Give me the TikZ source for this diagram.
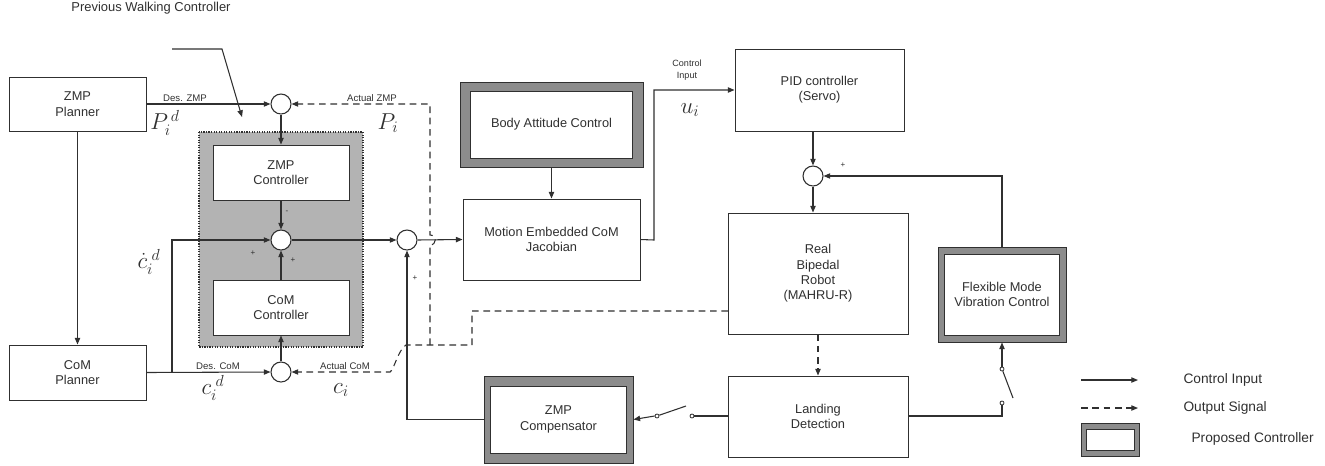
\documentclass[tikz,border=0pt]{standalone}
\usepackage{fontspec}
\setmainfont{Liberation Sans}
\usetikzlibrary{arrows.meta,calc}
\definecolor{ln}{HTML}{303030}
\definecolor{gbox}{HTML}{B3B3B3}
\definecolor{gframe}{HTML}{8C8C8C}
\begin{document}
\begin{tikzpicture}[x=0.75pt,y=-0.75pt,color=ln,line width=0.8pt,
  wh/.style 2 args={minimum width=#1*0.75pt, minimum height=#2*0.75pt},
  blk/.style={draw, fill=white, align=center, inner sep=0pt, line width=0.7pt,
    font=\fontsize{9.6}{11.5}\selectfont},
  frame/.style={draw, fill=gframe, inner sep=0pt, line width=0.7pt},
  sum/.style={circle, draw, fill=white, minimum size=15pt, inner sep=0pt},
  swc/.style={circle, draw, fill=white, minimum size=3pt, inner sep=0pt, line width=0.6pt},
  arr/.style={-{Triangle[length=5pt,width=4pt]}},
  sig/.style={dash pattern=on 5pt off 3.5pt},
  lab/.style={font=\fontsize{7.2}{8.5}\selectfont, inner sep=1pt},
  mth/.style={font=\fontsize{17}{17}\selectfont, inner sep=0pt},
  pm/.style={font=\fontsize{6}{6}\selectfont, inner sep=0pt},
  leg/.style={font=\fontsize{10.3}{12}\selectfont, anchor=west, inner sep=0pt}
]
\useasboundingbox (0,0) rectangle (1325,465);

% title
\node[font=\fontsize{9.7}{11}\selectfont] (title) at (151,8) {Previous Walking Controller};

% gray dotted region
\draw[fill=gbox, densely dotted, line width=0.9pt] (199,132) rectangle (363,347);

% blocks
\node[blk, wh={137}{54}] (zmpp) at (77.5,104) {ZMP\\Planner};
\node[blk, wh={137}{55}] (comp) at (77.5,372.5) {CoM\\Planner};
\node[blk, wh={136}{55}] (zmpc) at (281,172.5) {ZMP\\Controller};
\node[blk, wh={136}{55}] (comc) at (281,307.5) {CoM\\Controller};

\node[frame, wh={183}{85}] (bac-o) at (551.5,124.5) {};
\node[blk, wh={162}{67}] (bac) at (551.5,124.5) {Body Attitude Control};
\node[blk, wh={177}{81}] (mec) at (551.5,239.5) {Motion Embedded CoM\\Jacobian};
\node[blk, wh={169}{82}] (pid) at (819.5,90) {PID controller\\(Servo)};
\node[blk, wh={180}{121}] (robot) at (818,273.5) {Real\\Bipedal\\Robot\\(MAHRU-R)};
\node[blk, wh={180}{81}] (land) at (818,416.5) {Landing\\Detection};
\node[frame, wh={128}{95}] (fmv-o) at (1002,294.5) {};
\node[blk, wh={115}{81}] (fmv) at (1002,294.5) {Flexible Mode\\Vibration Control};
\node[frame, wh={149}{87}] (zcomp-o) at (558.5,419.5) {};
\node[blk, wh={136}{67}] (zcomp) at (558.5,419.5) {ZMP\\Compensator};

% summing junctions
\node[sum] (s1) at (281,104) {};
\node[sum] (s2) at (281,240) {};
\node[sum] (s3) at (281,372) {};
\node[sum] (s4) at (407,240) {};
\node[sum] (s5) at (813,176) {};

% previous walking controller input
\coordinate (pw0) at (172,49);
\coordinate (pw1) at (222,49);
\coordinate (pw2) at (242,117);
\draw[arr] (pw0) -- (pw1) -- (pw2);

% ZMP path
\draw[arr] (zmpp.east) -- (s1.west);
\node[lab, anchor=south] (desz) at (185,103) {Des. ZMP};
\draw[arr] (zmpp.south) -- (comp.north);
\draw[arr] (s1.south) -- (zmpc.north);
\draw[arr] (zmpc.south) -- (s2.north);
\draw[arr] (comc.north) -- (s2.south);
\coordinate (cj) at (172,372);
\draw[arr] (comp.east) -- (s3.west);
\draw[arr] (cj) |- (s2.west);
\draw[arr] (s3.north) -- (comc.south);
\node[lab, anchor=south] (desc) at (218,371) {Des. CoM};
\node[lab, anchor=south] (actc) at (345,371) {Actual CoM};
\node[lab, anchor=south] (actz) at (372,103) {Actual ZMP};

% feedback dashed lines
\coordinate (rb) at (728,311);
\coordinate (d1) at (472,311);
\coordinate (d2) at (472,345);
\coordinate (d3) at (430,345);
\coordinate (d4) at (406,345);
\coordinate (d5) at (390,372);
\draw[sig, arr] (rb) -- (d1) -- (d2) -- (d4) .. controls (398,350) and (394,370) .. (d5) -- (s3.east);
\draw[sig, arr] (d3) -- (430,245) .. controls (437,245) and (437,235) .. (430,235) -- (430,104) -- (s1.east);

% + / - signs
\node[pm] (m1) at (287,212) {-};
\node[pm] (p1) at (253,253) {+};
\node[pm] (p2) at (293,260) {+};
\node[pm] (p3) at (415,278) {+};
\node[pm] (p4) at (843,165) {+};

% math labels
\node[mth] (Pd) at (165,123) {$P_i^{\,d}$};
\node[mth] (Pa) at (388,123) {$P_i$};
\node[mth] (cdd) at (149,262) {$\dot{c}_i^{\;d}$};
\node[mth] (cd) at (213,388) {$c_i^{\;d}$};
\node[mth] (ca) at (341,390) {$c_i$};
\node[mth] (ui) at (690,110) {$u_i$};

% forward path
\draw[arr] (s2.east) -- (s4.west);
\draw[arr] (s4.east) -- (mec.west);
\draw[arr] (bac-o.south) -- (mec.north);
\coordinate (mj) at (654,240);
\draw[arr] (mec.east) -- (mj) |- (pid.west);
\node[lab, align=center, font=\fontsize{6.8}{8.5}\selectfont] (ci) at (687,70) {Control\\Input};
\draw[arr] (pid.south -| s5) -- (s5.north);
\draw[arr] (s5.south) -- (robot.north -| s5);
\draw[arr] (fmv-o.north) |- (s5.east);
\draw[sig, arr] (robot.south) -- (land.north);

% compensator path
\draw[arr] (zcomp-o.west) -| (s4.south);

% switch to flexible mode
\node[swc] (sa1) at (1002,403) {};
\node[swc] (sa2) at (1002,369) {};
\coordinate (sab) at (1013,398);
\draw (land.east |- 0,416) -| (sa1.south);
\draw (sa2) -- (sab);
\draw[arr] (sa2.north) -- (fmv-o.south);

% switch to ZMP compensator
\node[swc] (sb1) at (692,416) {};
\node[swc] (sb2) at (657,416) {};
\coordinate (sbb) at (686,406);
\draw (land.west |- 0,416) -- (sb1.east);
\draw (sb2) -- (sbb);
\draw[arr] (sb2.west) -- (zcomp-o.east);

% legend
\coordinate (l1a) at (1081,380);
\coordinate (l1b) at (1138,380);
\coordinate (l2a) at (1081,408);
\coordinate (l2b) at (1138,408);
\draw[arr] (l1a) -- (l1b);
\draw[arr, sig] (l2a) -- (l2b);
\node[leg] (lt1) at (1183,380) {Control Input};
\node[leg] (lt2) at (1183,408) {Output Signal};
\node[frame, wh={58}{33}] (lg-o) at (1110,439.5) {};
\node[blk, wh={48}{21}] (lg) at (1110,439.5) {};
\node[leg] (lt3) at (1191,439) {Proposed Controller};
\end{tikzpicture}
\end{document}
